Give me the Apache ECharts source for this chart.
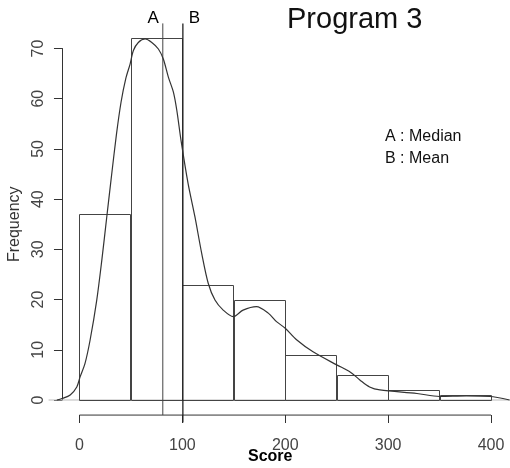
<!DOCTYPE html>
<html>
<head>
<meta charset="utf-8">
<script src="https://cdn.jsdelivr.net/npm/echarts@6/dist/echarts.min.js"></script>
<style>html,body{margin:0;padding:0;background:#fff;}#c{width:510px;height:468px;}</style>
</head>
<body>
<div id="c"></div>
<script>
// ---- data ----
const binEdges = [0, 50, 100, 150, 200, 250, 300, 350, 400];
const counts = [37, 72, 23, 20, 9, 5, 2, 1];
const densityX = [-22, -17, -9, -2.6, 0.6, 5.4, 10.3, 16.8, 21.7, 26.5, 31.4, 36, 40.4, 45, 49.2, 52.4, 57.2, 63.8, 70.3, 76.7, 81.5, 86.4, 91.3, 94.6, 98.7, 105.5, 112.2, 118.8, 125.2, 131.7, 139.7, 149.5, 159, 172, 183.5, 191.5, 200, 211, 227, 250, 263, 272.5, 282, 292, 328, 350, 376, 399, 418];
const densityY = [0, 0.3, 1.0, 2.6, 4.6, 7.3, 11.9, 19.9, 27.8, 36.4, 45.1, 53.0, 59.3, 64.0, 66.9, 69.6, 71.2, 71.9, 71.2, 69.9, 67.9, 64.3, 61.3, 57.7, 51.7, 43.2, 36.5, 29.2, 23.2, 19.9, 17.9, 16.6, 17.9, 18.6, 17.3, 15.6, 14.3, 12.0, 9.6, 7.0, 5.6, 4.0, 2.6, 2.0, 1.3, 0.7, 0.8, 0.7, 0];
const medianScore = 81;
const meanScore = 100.5;
const xTicks = [0, 100, 200, 300, 400];
const yTickMin = 0, yTickMax = 70, yTickStep = 10;
const titleText = 'Program 3';
const xName = 'Score';
const yName = 'Frequency';
const legendLines = ['A : Median', 'B : Mean'];

// ---- layout constants (not data) ----
const xViewMin = -30, xViewMax = 420;
const yAxisAt = -17;               // score where the y axis line sits (left of 0)
const lineTop = 75, lineBottom = -3;

const bars = counts.map((c, i) => [binEdges[i], binEdges[i + 1], c]);
const density = densityX.map((x, i) => [x, densityY[i]]);

const chart = echarts.init(document.getElementById('c'), null, {renderer: 'canvas'});
const FONT = '"Liberation Sans", Arial, sans-serif';
const axisCol = '#333';

chart.setOption({
  animation: false,
  backgroundColor: '#fff',
  title: {
    text: titleText, left: 287, top: 5, padding: 0,
    textStyle: {fontFamily: FONT, fontSize: 29, fontWeight: 'normal', color: '#111'}
  },
  grid: {left: 48.6, right: -1.6, top: 48.5, bottom: 68, containLabel: false, outerBoundsMode: 'none'},
  xAxis: [{
    type: 'value', min: xViewMin, max: xViewMax,
    position: 'bottom', offset: 15,
    axisLine: {show: false, onZero: false},
    axisTick: {show: true, length: 8, customValues: xTicks, lineStyle: {color: axisCol}},
    axisLabel: {fontFamily: FONT, fontSize: 16, color: '#444', margin: 23, customValues: xTicks},
    splitLine: {show: false}
  }, {
    // helper axis: its zero marks where the y axis is drawn
    type: 'value', min: xViewMin - yAxisAt, max: xViewMax - yAxisAt, show: false,
    position: 'bottom', axisLine: {onZero: false}
  }],
  yAxis: {
    type: 'value', min: yTickMin, max: yTickMax, interval: yTickStep,
    position: 'left',
    name: yName, nameLocation: 'middle', nameRotate: 90, nameGap: 16,
    nameTextStyle: {fontFamily: FONT, fontSize: 16, color: '#333'},
    axisLine: {show: true, onZero: true, onZeroAxisIndex: 1, lineStyle: {color: axisCol, width: 1}},
    axisTick: {show: true, length: 8, lineStyle: {color: axisCol}},
    axisLabel: {fontFamily: FONT, fontSize: 16, color: '#444', rotate: 90, margin: 2},
    splitLine: {show: false}
  },
  graphic: [
    {type: 'text', left: 385, top: 129, style: {text: legendLines[0], font: '16px ' + FONT, fill: '#111'}},
    {type: 'text', left: 385, top: 151, style: {text: legendLines[1], font: '16px ' + FONT, fill: '#111'}},
    {type: 'text', left: 248, top: 449, style: {text: xName, font: 'bold 16px ' + FONT, fill: '#000'}}
  ],
  series: [
    {
      type: 'line', data: [[xViewMin, 0], [xViewMax, 0]], clip: false, symbol: 'none',
      lineStyle: {color: '#bbb', width: 1}, silent: true, z: 1
    },
    {
      type: 'line', data: [[xTicks[0], lineBottom], [xTicks[xTicks.length - 1], lineBottom]], clip: false, symbol: 'none',
      lineStyle: {color: axisCol, width: 1}, silent: true, z: 1
    },
    {
      type: 'custom', clip: false, data: bars, z: 2,
      renderItem: function (params, api) {
        const p0 = api.coord([api.value(0), 0]);
        const p1 = api.coord([api.value(1), api.value(2)]);
        return {
          type: 'rect',
          shape: {x: Math.round(p0[0]) + 0.5, y: Math.round(p1[1]) + 0.5, width: Math.round(p1[0] - p0[0]), height: Math.round(p0[1] - p1[1])},
          style: {fill: 'none', stroke: '#444', lineWidth: 1}
        };
      }
    },
    {
      type: 'line', clip: false, z: 3, symbol: 'circle', symbolSize: 0,
      data: [[medianScore, lineBottom], {value: [medianScore, lineTop], label: {show: true, position: 'left', distance: 4, offset: [0, -5], formatter: 'A', fontFamily: FONT, fontSize: 17, color: '#000'}}],
      lineStyle: {color: '#444', width: 1}
    },
    {
      type: 'line', clip: false, z: 3, symbol: 'circle', symbolSize: 0,
      data: [[meanScore, lineBottom - 1.5], {value: [meanScore, lineTop], label: {show: true, position: 'right', distance: 6, offset: [0, -5], formatter: 'B', fontFamily: FONT, fontSize: 17, color: '#000'}}],
      lineStyle: {color: '#222', width: 1.3}
    },
    {
      type: 'line', clip: false, z: 4, symbol: 'none', smooth: 0.3,
      data: density, lineStyle: {color: '#333', width: 1.2}
    }
  ]
});
</script>
</body>
</html>
